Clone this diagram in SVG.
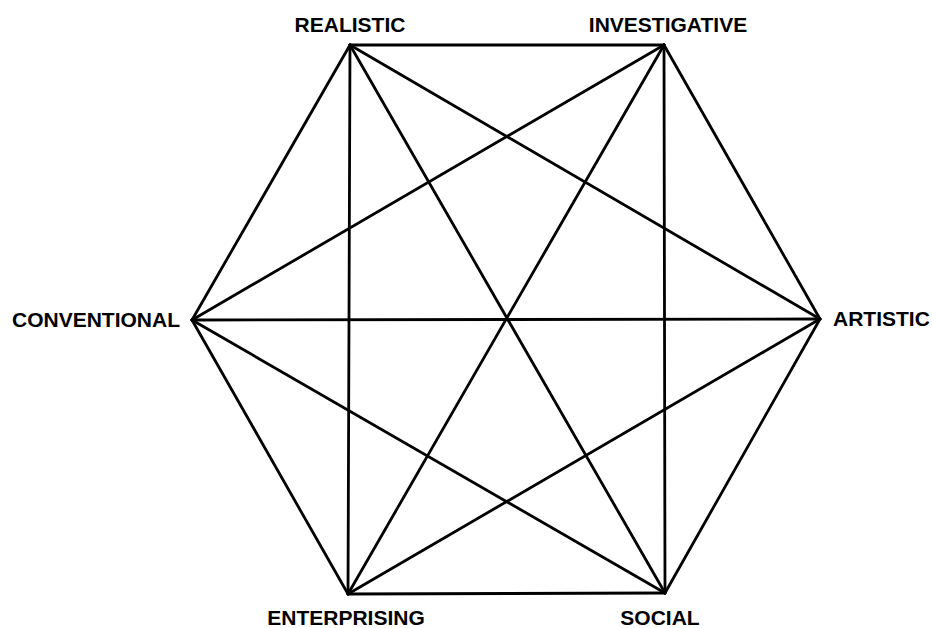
<svg xmlns="http://www.w3.org/2000/svg" width="932" height="628" viewBox="0 0 932 628">
<style>
.e{stroke:#000;stroke-width:2.8;fill:none;stroke-linecap:round;stroke-linejoin:round}
.t{font-family:"Liberation Sans",Arial,sans-serif;font-weight:bold;font-size:21px;fill:#000}
</style>
<rect width="932" height="628" fill="#fff"/>
<g id="connectors">
<line class="e" x1="350" y1="45" x2="664" y2="45"/>
<line class="e" x1="664" y1="45" x2="820" y2="319"/>
<line class="e" x1="820" y1="319" x2="665" y2="593"/>
<line class="e" x1="665" y1="593" x2="348" y2="594"/>
<line class="e" x1="348" y1="594" x2="192" y2="320"/>
<line class="e" x1="192" y1="320" x2="350" y2="45"/>
<line class="e" x1="350" y1="45" x2="820" y2="319"/>
<line class="e" x1="350" y1="45" x2="665" y2="593"/>
<line class="e" x1="350" y1="45" x2="348" y2="594"/>
<line class="e" x1="664" y1="45" x2="192" y2="320"/>
<line class="e" x1="664" y1="45" x2="348" y2="594"/>
<line class="e" x1="664" y1="45" x2="665" y2="593"/>
<line class="e" x1="192" y1="320" x2="820" y2="319"/>
<line class="e" x1="192" y1="320" x2="665" y2="593"/>
<line class="e" x1="348" y1="594" x2="820" y2="319"/>
</g>
<g id="realistic"><text class="t" x="350" y="32" text-anchor="middle">REALISTIC</text></g>
<g id="investigative"><text class="t" x="668" y="32" text-anchor="middle">INVESTIGATIVE</text></g>
<g id="conventional"><text class="t" x="180" y="327" text-anchor="end">CONVENTIONAL</text></g>
<g id="artistic"><text class="t" x="833" y="326">ARTISTIC</text></g>
<g id="enterprising"><text class="t" x="346" y="625" text-anchor="middle">ENTERPRISING</text></g>
<g id="social"><text class="t" x="660" y="625" text-anchor="middle">SOCIAL</text></g>
</svg>
